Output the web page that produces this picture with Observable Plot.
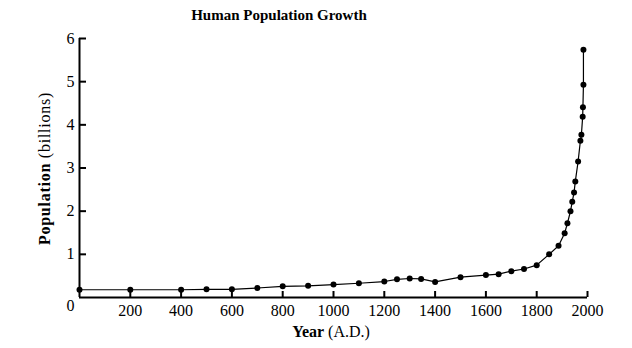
<!DOCTYPE html>
<html>
<head>
<meta charset="utf-8">
<script src="https://cdn.jsdelivr.net/npm/d3@7"></script>
<script src="https://cdn.jsdelivr.net/npm/@observablehq/plot@0.6"></script>
<style>
  html, body { margin: 0; padding: 0; background: #fff; }
  #chart { position: relative; width: 632px; height: 348px; }
</style>
</head>
<body>
<div id="chart"></div>
<script>
const title = "Human Population Growth";
const xLabelBold = "Year";
const xLabelRest = " (A.D.)";
const yLabelBold = "Population";
const yLabelRest = " (billions)";

const years = [0, 200, 400, 500, 600, 700, 800, 900, 1000, 1100, 1200, 1250, 1300, 1345, 1400, 1500, 1600, 1650, 1700, 1750, 1800, 1849, 1886, 1910, 1921, 1933, 1940, 1947, 1952, 1963, 1972, 1976, 1981, 1982, 1984, 1984];
const pops  = [0.18, 0.18, 0.18, 0.19, 0.19, 0.22, 0.26, 0.27, 0.30, 0.33, 0.37, 0.42, 0.44, 0.43, 0.36, 0.47, 0.52, 0.54, 0.61, 0.66, 0.75, 1.00, 1.20, 1.49, 1.72, 2.00, 2.22, 2.43, 2.69, 3.15, 3.63, 3.77, 4.19, 4.41, 4.93, 5.74];

const xTicks = [200, 400, 600, 800, 1000, 1200, 1400, 1600, 1800, 2000];
const yTicks = [1, 2, 3, 4, 5, 6];
const originLabel = ["0"];

const data = years.map((y, i) => ({year: y, pop: pops[i]}));

const svg = Plot.plot({
  width: 632,
  height: 348,
  marginLeft: 79,
  marginRight: 45,
  marginTop: 38,
  marginBottom: 51,
  style: {fontFamily: "'Liberation Serif', serif", fontSize: "16px", color: "#000", background: "#fff"},
  x: {domain: [0, 2000]},
  y: {domain: [0, 6]},
  marks: [
    Plot.axisX(xTicks, {tickSize: -6, tickPadding: 13, strokeWidth: 2, label: null, fill: "#000", tickFormat: d => String(d)}),
    Plot.axisY(yTicks, {tickSize: -7, tickPadding: 12, strokeWidth: 2, label: null, fill: "#000", tickFormat: d => String(d)}),
    Plot.ruleY([0], {stroke: "#000", strokeWidth: 2.2}),
    Plot.ruleX([0], {stroke: "#000", strokeWidth: 2}),
    Plot.line(data, {x: "year", y: "pop", stroke: "#000", strokeWidth: 1.2}),
    Plot.dot(data, {x: "year", y: "pop", r: 3, fill: "#000", stroke: "none"}),
    Plot.text(originLabel, {x: 0, y: 0, text: d => d, textAnchor: "end", dx: -5, dy: 8, fill: "#000"})
  ]
});

const s = d3.select(svg);
s.append("text")
  .attr("x", 279).attr("y", 19.5)
  .attr("text-anchor", "middle")
  .attr("font-family", "'Liberation Serif', serif")
  .attr("font-weight", "bold")
  .attr("font-size", 15)
  .attr("fill", "#000")
  .text(title);

const xl = s.append("text")
  .attr("x", 331).attr("y", 336.5)
  .attr("text-anchor", "middle")
  .attr("font-family", "'Liberation Serif', serif")
  .attr("font-size", 16)
  .attr("fill", "#000");
xl.append("tspan").attr("font-weight", "bold").text(xLabelBold);
xl.append("tspan").text(xLabelRest);

const yl = s.append("text")
  .attr("transform", "translate(50,168.5) rotate(-90)")
  .attr("text-anchor", "middle")
  .attr("font-family", "'Liberation Serif', serif")
  .attr("font-size", 16)
  .attr("letter-spacing", "0.75px")
  .attr("fill", "#000");
yl.append("tspan").attr("font-weight", "bold").text(yLabelBold);
yl.append("tspan").text(yLabelRest);

document.getElementById("chart").appendChild(svg);
</script>
</body>
</html>
